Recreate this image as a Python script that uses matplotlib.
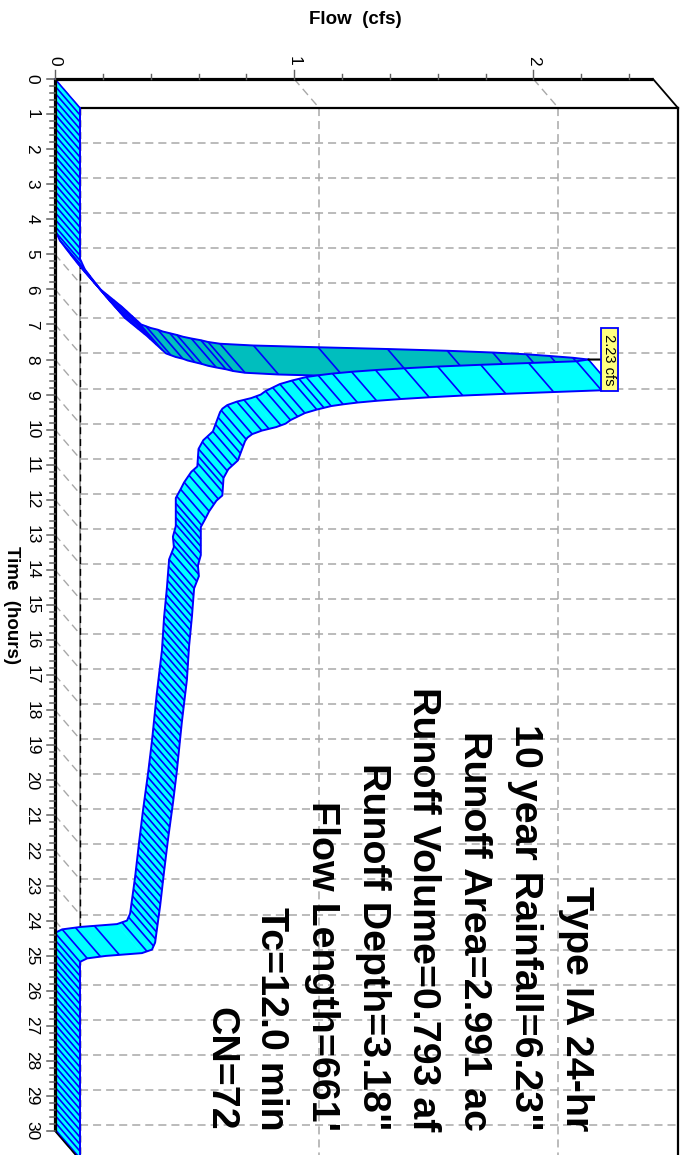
import numpy as np
import matplotlib
matplotlib.use("Agg")
import matplotlib.pyplot as plt
from matplotlib.patches import Polygon

plt.rcParams['font.family'] = ['Liberation Sans', 'DejaVu Sans']
plt.rcParams['lines.scale_dashes'] = False

# ---------------------------------------------------------------- data
time_hr = [0.00, 4.30, 4.60, 5.00, 5.30, 5.50, 6.00, 6.50, 7.00, 7.10,
           7.15, 7.20, 7.25, 7.30, 7.35, 7.40, 7.45, 7.50, 7.55, 7.60,
           7.65, 7.70, 7.75, 7.80, 7.85, 7.90, 7.95, 8.00, 8.05, 8.10,
           8.15, 8.20, 8.25, 8.30, 8.35, 8.40, 8.45, 8.50, 8.55, 8.60,
           8.70, 8.80, 8.90, 9.00, 9.10, 9.20, 9.30, 9.40, 9.50, 10.05,
           10.30, 10.55, 11.05, 11.20, 11.50, 11.70, 11.95, 12.75, 13.05, 13.35,
           13.70, 14.50, 15.35, 16.30, 17.50, 18.90, 19.80, 20.85, 21.80, 22.75,
           23.80, 24.00, 24.10, 24.18, 24.25, 24.35, 30.00]
flow_cfs = [0.000, 0.000, 0.020, 0.065, 0.100, 0.125, 0.190, 0.280, 0.360, 0.400,
            0.430, 0.450, 0.480, 0.510, 0.535, 0.570, 0.610, 0.640, 0.690, 0.830,
            1.100, 1.390, 1.640, 1.830, 1.970, 2.070, 2.165, 2.230, 2.180, 1.980,
            1.780, 1.600, 1.460, 1.340, 1.240, 1.160, 1.100, 1.050, 1.020, 0.990,
            0.940, 0.910, 0.880, 0.860, 0.820, 0.760, 0.720, 0.700, 0.690, 0.660,
            0.620, 0.600, 0.595, 0.570, 0.540, 0.525, 0.505, 0.505, 0.493, 0.497,
            0.477, 0.468, 0.456, 0.447, 0.426, 0.405, 0.389, 0.368, 0.351, 0.335,
            0.314, 0.301, 0.259, 0.108, 0.030, 0.000, 0.000]

peak_time = 8.00
peak_flow = 2.23
peak_label = "2.23 cfs"

flow_max = 2.5
time_max = 30
flow_major = [0, 1, 2]
flow_labels = ["0", "1", "2"]
time_major = list(range(0, 31))
time_labels = [str(t) for t in time_major]

notes = ["Type IA 24-hr",
         '10 year Rainfall=6.23"',
         "Runoff Area=2.991 ac",
         "Runoff Volume=0.793 af",
         'Runoff Depth=3.18"',
         "Flow Length=661'",
         "Tc=12.0 min",
         "CN=72"]

# ---------------------------------------------------------------- layout
W, H, DPI = 683, 1155, 100
fig = plt.figure(figsize=(W / DPI, H / DPI), dpi=DPI)
fig.patch.set_facecolor("white")


def fx(px):
    return px / W


def fy(py):
    return 1 - py / H


X0, X1, Y0, Y1 = 55, 653, 79, 1131          # front plane, image pixels
ax = fig.add_axes([fx(X0), fy(Y1), (X1 - X0) / W, (Y1 - Y0) / H])
ax.set_xlim(0, flow_max)
ax.set_ylim(time_max, 0)
ax.set_axis_off()

px_q = (X1 - X0) / flow_max                  # pixels per cfs
px_t = (Y1 - Y0) / time_max                  # pixels per hour

# depth of the 3-D box: 25 px right, 29 px down
DEPTH = (25, 29)
dq = DEPTH[0] / px_q
dt = DEPTH[1] / px_t

GRID = "#a8a8a8"
BLUE = "#0000ff"
CYAN = "#00ffff"
TEAL = "#00bebe"
dash = (0, (5.8, 3.6))


def seg(xs, ys, **kw):
    ax.plot(xs, ys, clip_on=False, scalex=False, scaley=False, **kw)


# back-plane grid
for t in time_major:
    seg([dq, flow_max + dq], [t + dt, t + dt], color=GRID, lw=1.1, ls=dash, zorder=1)
    seg([0, dq], [t, t + dt], color=GRID, lw=1.0, ls=dash, zorder=1)
for q in flow_major[1:]:
    seg([q + dq, q + dq], [dt, time_max + dt], color=GRID, lw=1.1, ls=dash, zorder=1)
    seg([q, q + dq], [0, dt], color=GRID, lw=1.0, ls=dash, zorder=1)

# back wall and box edges
seg([dq, dq], [dt, time_max + dt], color="#909090", lw=1.3, zorder=1.5)
seg([dq, dq], [dt, time_max + dt], color="black", lw=1.0, ls=(0, (5, 3.5)), zorder=1.6)
seg([dq, flow_max + dq], [dt, dt], color="black", lw=1.6, zorder=1.7)
seg([flow_max + dq, flow_max + dq], [dt, time_max + dt], color="black", lw=1.6, zorder=1.7)
seg([flow_max, flow_max + dq], [0, dt], color="black", lw=1.3, zorder=1.7)

# ---------------------------------------------------------------- hydrograph ribbon
tq = np.asarray(time_hr)
fq = np.asarray(flow_cfs)
sx = np.diff(fq) * px_q
sy = np.diff(tq) * px_t
underside = sx * DEPTH[1] > sy * DEPTH[0]

# hatch stations: walk along the curve, one line every ~7 px
ts = np.round(np.arange(0, time_max + 1e-9, 0.05), 2)
qs = np.interp(ts, tq, fq)
hatch_t, hatch_q = [ts[0]], [qs[0]]
for t, q in zip(ts[1:], qs[1:]):
    dist = np.hypot((q - hatch_q[-1]) * px_q, (t - hatch_t[-1]) * px_t)
    if dist >= 6.8:
        hatch_t.append(t)
        hatch_q.append(q)
hatch_t = np.array(hatch_t)
hatch_q = np.array(hatch_q)

# group segments into runs that show the same face
runs = []
start = 0
for i in range(1, len(underside) + 1):
    if i == len(underside) or underside[i] != underside[start]:
        runs.append((start, i))
        start = i

for k, (a, b) in enumerate(runs):
    z = 3 + k * 0.01
    color = TEAL if underside[a] else CYAN
    for i in range(a, b):
        quad = [(fq[i], tq[i]), (fq[i + 1], tq[i + 1]),
                (fq[i + 1] + dq, tq[i + 1] + dt), (fq[i] + dq, tq[i] + dt)]
        ax.add_patch(Polygon(quad, closed=True, fc=color, ec=color, lw=0.4,
                             clip_on=False, zorder=z))
    t_lo, t_hi = tq[a], tq[b]
    sel = (hatch_t >= t_lo) & (hatch_t < t_hi) if b < len(tq) - 1 else \
          (hatch_t >= t_lo) & (hatch_t < time_max)
    for t, q in zip(hatch_t[sel], hatch_q[sel]):
        seg([q, q + dq], [t, t + dt], color=BLUE, lw=1.2, zorder=z + 0.004,
            solid_capstyle="butt")
    seg(fq[a:b + 1], tq[a:b + 1], color=BLUE, lw=1.4, zorder=z + 0.005,
        solid_joinstyle="round")
    seg(fq[a:b + 1] + dq, tq[a:b + 1] + dt, color=BLUE, lw=1.4, zorder=z + 0.005,
        solid_joinstyle="round")

# end cap at the last time
seg([fq[-1], fq[-1] + dq], [tq[-1], tq[-1] + dt], color="black", lw=1.1, zorder=6)

# ---------------------------------------------------------------- front axes
seg([0, flow_max], [0, 0], color="black", lw=2.3, zorder=8, solid_capstyle="butt")
seg([0, 0], [0, time_max], color="black", lw=2.3, zorder=8, solid_capstyle="butt")

for q in np.arange(0, flow_max - 0.05, 0.2):
    major = abs(q - round(q)) < 1e-6
    L = (9 if major else 5) / px_t
    seg([q, q], [0, -L], color="#606060", lw=1.0, zorder=8)

for t in np.arange(0, time_max + 1e-9, 0.2):
    major = abs(t - round(t)) < 1e-6
    L = (8 if major else 5) / px_q
    seg([0, -L], [t, t], color="#606060", lw=1.1, zorder=8)

for q, lab in zip(flow_major, flow_labels):
    ax.text(q, -18 / px_t, lab, rotation=-90, ha="center", va="center",
            fontsize=12.5, clip_on=False)
for t, lab in zip(time_major, time_labels):
    ax.text(-23 / px_q, t, lab, rotation=-90, ha="center", va="center",
            fontsize=12.5, clip_on=False)

fig.text(fx(355), fy(20), "Flow  (cfs)", ha="center", va="center",
         fontsize=13.5, fontweight="bold")
fig.text(fx(11), fy(605), "Time  (hours)", rotation=-90, ha="center", va="center",
         fontsize=13.5, fontweight="bold")

# ---------------------------------------------------------------- peak label
ax.annotate(" " + peak_label + " ", xy=(peak_flow, peak_time), xytext=(21, 0),
            textcoords="offset pixels", rotation=-90, ha="center", va="center",
            fontsize=10.5, zorder=20, annotation_clip=False,
            bbox=dict(boxstyle="square,pad=0.12", fc="#ffff80", ec=BLUE, lw=1.3),
            arrowprops=dict(arrowstyle="-", color="black", lw=1.5,
                            shrinkA=0, shrinkB=0))

# ---------------------------------------------------------------- storm summary
for i, s in enumerate(notes):
    fig.text(fx(566 - 50.85 * i), fy(1131), s, rotation=-90, rotation_mode="anchor",
             ha="right", va="baseline", fontsize=28.4, fontweight="bold", zorder=5)

fig.savefig("out.png", dpi=DPI)
